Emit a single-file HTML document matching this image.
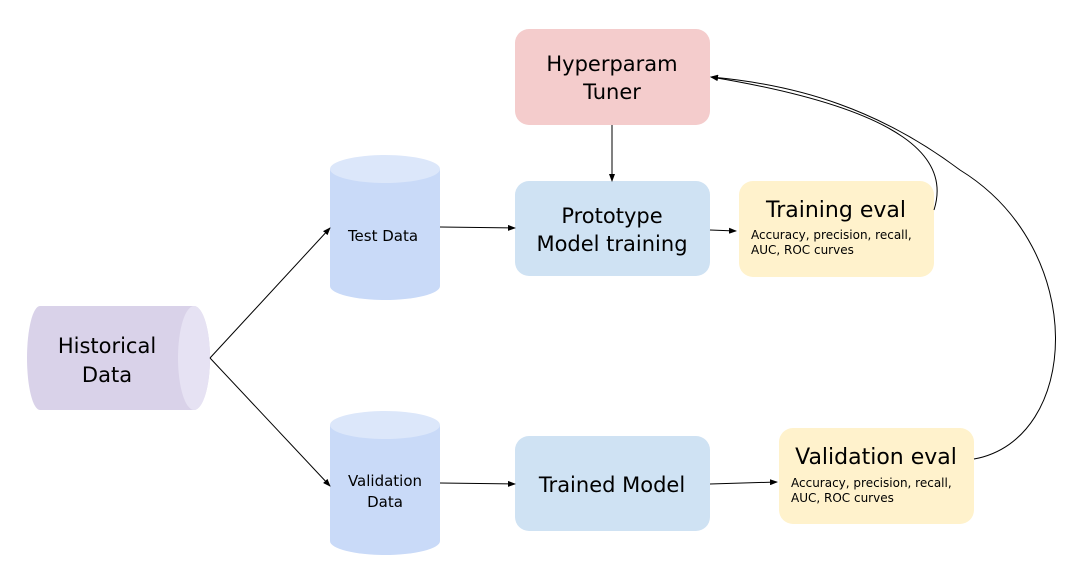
<!DOCTYPE html>
<html><head><meta charset="utf-8"><style>
body{margin:0;background:#fff;}
svg text{font-family:"DejaVu Sans","Liberation Sans",sans-serif;fill:#000;}
</style></head><body>
<svg width="1079" height="560" viewBox="0 0 1079 560" xmlns="http://www.w3.org/2000/svg">
<defs>
<marker id="a" markerWidth="8" markerHeight="6" refX="7" refY="3" orient="auto" markerUnits="userSpaceOnUse">
<path d="M0,0 L8,3 L0,6 z" fill="#000"/></marker>
</defs>
<!-- Historical Data horizontal cylinder -->
<path d="M40,306 L194,306 A16,52 0 0 1 194,410 L40,410 A13,52 0 0 1 40,306 z" fill="#d9d2e9"/>
<ellipse cx="194" cy="358" rx="16" ry="52" fill="#e6e2f3"/>
<text x="107" y="353" font-size="21" text-anchor="middle">Historical</text>
<text x="107" y="382" font-size="21" text-anchor="middle">Data</text>
<!-- Test Data cylinder -->
<path d="M330,169 L330,286 A55,14 0 0 0 440,286 L440,169 z" fill="#c9daf8"/>
<ellipse cx="385" cy="169" rx="55" ry="14" fill="#dce7fa"/>
<text x="383" y="241" font-size="15" text-anchor="middle">Test Data</text>
<!-- Validation Data cylinder -->
<path d="M330,425 L330,541 A55,14 0 0 0 440,541 L440,425 z" fill="#c9daf8"/>
<ellipse cx="385" cy="425" rx="55" ry="14" fill="#dce7fa"/>
<text x="385" y="486" font-size="15" text-anchor="middle">Validation</text>
<text x="385" y="507" font-size="15" text-anchor="middle">Data</text>
<!-- boxes -->
<rect x="515" y="29" width="195" height="96" rx="14" fill="#f4cccc"/>
<text x="612" y="71" font-size="21" text-anchor="middle">Hyperparam</text>
<text x="612" y="99" font-size="21" text-anchor="middle">Tuner</text>
<rect x="515" y="181" width="195" height="95" rx="14" fill="#cfe2f3"/>
<text x="612" y="223" font-size="21" text-anchor="middle">Prototype</text>
<text x="612" y="251" font-size="21" text-anchor="middle">Model training</text>
<rect x="515" y="436" width="195" height="95" rx="14" fill="#cfe2f3"/>
<text x="612" y="492" font-size="21" text-anchor="middle">Trained Model</text>
<rect x="739" y="181" width="195" height="96" rx="14" fill="#fff2cc"/>
<text x="836" y="217" font-size="22" text-anchor="middle">Training eval</text>
<text x="751" y="239" font-size="12">Accuracy, precision, recall,</text>
<text x="751" y="254" font-size="12">AUC, ROC curves</text>
<rect x="779" y="428" width="195" height="96" rx="14" fill="#fff2cc"/>
<text x="876" y="464" font-size="22" text-anchor="middle">Validation eval</text>
<text x="791" y="487" font-size="12">Accuracy, precision, recall,</text>
<text x="791" y="502" font-size="12">AUC, ROC curves</text>
<!-- connectors -->
<g stroke="#000" stroke-width="1" fill="none" marker-end="url(#a)">
<line x1="210" y1="358" x2="330" y2="228"/>
<line x1="210" y1="358" x2="330" y2="486"/>
<line x1="440" y1="227" x2="515" y2="228"/>
<line x1="440" y1="483" x2="515" y2="484"/>
<line x1="612" y1="125" x2="612" y2="181"/>
<line x1="710" y1="230" x2="736" y2="231"/>
<line x1="710" y1="484" x2="777" y2="482"/>
<path d="M934,210 C950,160 910,110 711,77"/>
<path d="M974,459 C1080,440 1090,250 960,170 C880,110 800,85 711,77"/>
</g>
</svg>
</body></html>
